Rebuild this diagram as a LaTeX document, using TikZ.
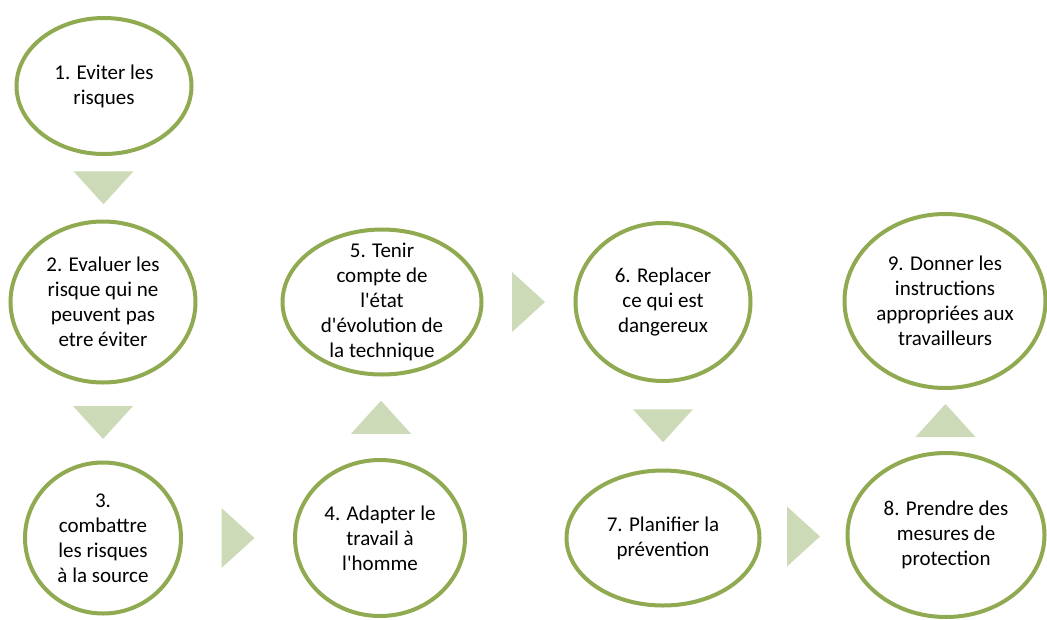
\documentclass[tikz,border=0pt]{standalone}
\usepackage{fontspec}
\setmainfont{Carlito}
\usetikzlibrary{shapes.geometric,calc}
\definecolor{ringgreen}{HTML}{8FAA50}
\definecolor{trigreen}{HTML}{CCDAB7}
\tikzset{
  ell/.style={ellipse, draw=ringgreen, line width=4pt, fill=white, inner sep=0pt},
  txt/.style={align=center, font=\fontsize{21}{25}\selectfont, text=black, inner sep=0pt},
  triright/.pic={\fill[trigreen] (-16.5,-30) -- (16.5,0) -- (-16.5,30) -- cycle;},
  tridown/.pic={\fill[trigreen] (-30,-16.5) -- (30,-16.5) -- (0,16.5) -- cycle;},
  triup/.pic={\fill[trigreen] (-30,16.5) -- (30,16.5) -- (0,-16.5) -- cycle;}
}
\begin{document}
\begin{tikzpicture}[x=1pt,y=-1pt]
\useasboundingbox (0,0) rectangle (1047,619);
\node[ell, minimum width=175, minimum height=136, label={[txt]center:{1. Eviter les\\risques}}] (e1) at (104,86) {};
\node[ell, minimum width=185, minimum height=161, label={[txt]center:{2. Evaluer les\\risque qui ne\\peuvent pas\\etre éviter}}] (e2) at (103,302) {};
\node[ell, minimum width=156, minimum height=151, label={[txt]center:{3.\\combattre\\les risques\\à la source}}] (e3) at (103,538) {};
\node[ell, minimum width=170, minimum height=156, label={[txt]center:{4. Adapter le\\travail à\\l\textquotesingle homme}}] (e4) at (380,538) {};
\node[ell, minimum width=199, minimum height=145, label={[txt]center:{5. Tenir\\compte de\\l\textquotesingle état\\d\textquotesingle évolution de\\la technique}}] (e5) at (382,302) {};
\node[ell, minimum width=175, minimum height=158, label={[txt]center:{6. Replacer\\ce qui est\\dangereux}}] (e6) at (663,302) {};
\node[ell, minimum width=193, minimum height=135, label={[txt]center:{7. Planifier la\\prévention}}] (e7) at (663,538) {};
\node[ell, minimum width=197, minimum height=164, label={[txt]center:{8. Prendre des\\mesures de\\protection}}] (e8) at (946,535) {};
\node[ell, minimum width=201, minimum height=174, label={[txt]center:{9. Donner les\\instructions\\appropriées aux\\travailleurs}}] (e9) at (945,301) {};
\coordinate (t1) at ($(e1.south)!0.5!(e2.north)$);
\coordinate (t2) at ($(e2.south)!0.5!(e3.north)$);
\coordinate (t3) at ($(e3.east)!0.5!(e4.west)$);
\coordinate (t4) at ($(e4.north)!0.5!(e5.south)$);
\coordinate (t5) at ($(e5.east)!0.5!(e6.west)$);
\coordinate (t6) at ($(e6.south)!0.5!(e7.north)$);
\coordinate (t7) at ($(e7.east)!0.5!(e8.west)$);
\coordinate (t8) at ($(e8.north)!0.5!(e9.south)$);
\pic at (t1) {tridown};
\pic at (t2) {tridown};
\pic at (t3) {triright};
\pic at (t4) {triup};
\pic at (t5) {triright};
\pic at (t6) {tridown};
\pic at (t7) {triright};
\pic at (t8) {triup};
\end{tikzpicture}
\end{document}
